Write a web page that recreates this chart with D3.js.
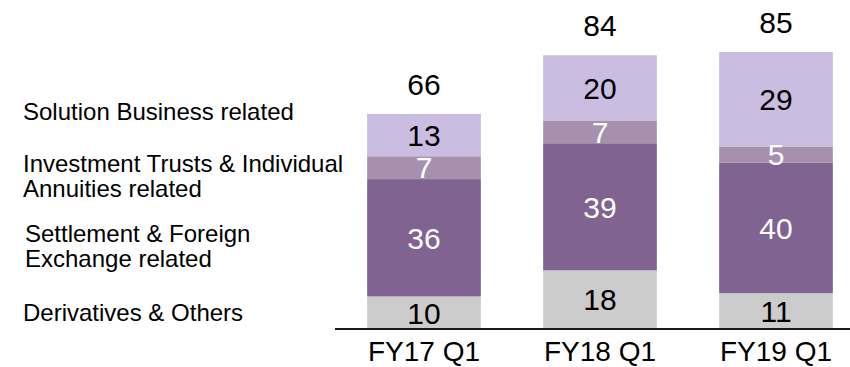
<!DOCTYPE html>
<html>
<head>
<meta charset="utf-8">
<script src="https://cdn.jsdelivr.net/npm/d3@7"></script>
<style>
  html, body { margin: 0; padding: 0; background: #ffffff; }
  svg { display: block; font-family: "Liberation Sans", Arial, sans-serif; }
</style>
</head>
<body>
<svg id="chart" width="850" height="367"></svg>
<script>
// Quarterly breakdown by business line (stacked, bottom to top)
const quarters = ["FY17 Q1", "FY18 Q1", "FY19 Q1"];
const seriesNames = [
  "Derivatives & Others",
  "Settlement & Foreign Exchange related",
  "Investment Trusts & Individual Annuities related",
  "Solution Business related"
];
const derivatives = [10, 18, 11];
const settlement = [36, 39, 40];
const investment = [7, 7, 5];
const solution = [13, 20, 29];
const totals = [66, 84, 85];

// Legend text lines on the left, one block per series
const legendLines = [
  ["Derivatives & Others"],
  ["Settlement & Foreign", "Exchange related"],
  ["Investment Trusts & Individual", "Annuities related"],
  ["Solution Business related"]
];

const fills = ["#cccccc", "#806391", "#a690ae", "#cabde1"];
const labelColors = ["#000000", "#ffffff", "#ffffff", "#000000"];

const rows = quarters.map((q, i) => ({
  quarter: q,
  s0: derivatives[i],
  s1: settlement[i],
  s2: investment[i],
  s3: solution[i]
}));
const keys = ["s0", "s1", "s2", "s3"];
const stacked = d3.stack().keys(keys)(rows);

const svg = d3.select("#chart");
const baseY = 329;

const x = d3.scaleBand()
  .domain(quarters)
  .range([336, 864])
  .paddingInner(0.354)
  .paddingOuter(0.177);

const y = d3.scaleLinear()
  .domain([0, 85])
  .range([baseY, 52]);

// Stacked segments
const layers = svg.append("g").selectAll("g")
  .data(stacked)
  .join("g")
  .attr("fill", (d, i) => fills[i]);

layers.selectAll("rect")
  .data(d => d)
  .join("rect")
  .attr("x", d => x(d.data.quarter))
  .attr("y", d => y(d[1]))
  .attr("width", x.bandwidth())
  .attr("height", d => y(d[0]) - y(d[1]));

// Segment value labels
stacked.forEach((layer, li) => {
  svg.append("g").selectAll("text")
    .data(layer)
    .join("text")
    .attr("x", d => x(d.data.quarter) + x.bandwidth() / 2)
    .attr("y", d => (y(d[0]) + y(d[1])) / 2)
    .attr("dy", "0.36em")
    .attr("text-anchor", "middle")
    .attr("font-size", 30)
    .attr("fill", labelColors[li])
    .text(d => d[1] - d[0]);
});

// Totals above each bar
svg.append("g").selectAll("text")
  .data(quarters)
  .join("text")
  .attr("x", q => x(q) + x.bandwidth() / 2)
  .attr("y", (q, i) => y(totals[i]) - 19)
  .attr("text-anchor", "middle")
  .attr("font-size", 30)
  .attr("fill", "#000")
  .text((q, i) => totals[i]);

// Baseline axis
const xAxis = d3.axisBottom(x).tickSize(0).tickPadding(12);
const axisG = svg.append("g")
  .attr("transform", `translate(0,${baseY})`)
  .call(xAxis);
axisG.select(".domain").remove();
axisG.selectAll("text")
  .attr("font-size", 28)
  .attr("font-family", "\"Liberation Sans\", Arial, sans-serif")
  .attr("fill", "#000");
svg.append("line")
  .attr("x1", 335).attr("x2", 850)
  .attr("y1", baseY).attr("y2", baseY)
  .attr("stroke", "#1a1a1a")
  .attr("stroke-width", 2);

// Series names on the left
const legendPos = [
  { x: 23, y: 321 },
  { x: 25, y: 242 },
  { x: 23, y: 172 },
  { x: 23, y: 120 }
];
const legend = svg.append("g").attr("font-size", 24).attr("fill", "#000");
legendLines.forEach((lines, i) => {
  const t = legend.append("text")
    .attr("x", legendPos[i].x)
    .attr("y", legendPos[i].y)
    .attr("aria-label", seriesNames[i]);
  lines.forEach((ln, j) => {
    t.append("tspan")
      .attr("x", legendPos[i].x)
      .attr("dy", j === 0 ? 0 : 24.5)
      .text(ln);
  });
});
</script>
</body>
</html>
